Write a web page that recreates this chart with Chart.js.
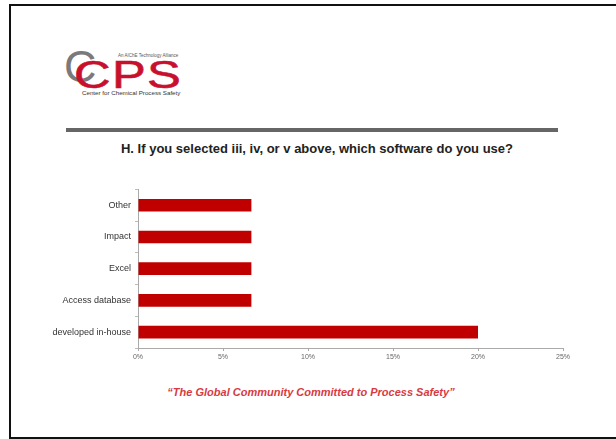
<!DOCTYPE html>
<html>
<head>
<meta charset="utf-8">
<script src="https://cdn.jsdelivr.net/npm/chart.js@4"></script>
<style>
  html, body { margin: 0; padding: 0; background: #fff; }
  body { width: 616px; height: 439px; position: relative; overflow: hidden; font-family: "Liberation Sans", Arial, sans-serif; }
  .frame { position: absolute; left: 9px; top: 4px; width: 640px; height: 431px; border: 2px solid #111; border-right: none; }
  .logo-c { position: absolute; left: 64px; top: 44px; font-size: 45px; color: #7a7a7a; line-height: 1; }
  .logo-cps { position: absolute; left: 74px; top: 55px; font-size: 39px; color: #c8102e; line-height: 1; letter-spacing: 1px; transform: scaleX(1.3); transform-origin: left top; -webkit-text-stroke: 0.6px #c8102e; }
  .logo-tag { position: absolute; left: 118px; top: 54px; font-size: 4.5px; color: #555; line-height: 1; }
  .logo-name { position: absolute; left: 82px; top: 90px; font-size: 6.2px; color: #333; line-height: 1; }
  .rule { position: absolute; left: 66px; top: 128px; width: 492px; height: 4px; background: #666; }
  .title { position: absolute; left: 0; width: 634px; top: 141px; text-align: center; font-size: 13px; font-weight: bold; color: #222; }
  .slogan { position: absolute; left: 0; width: 622px; top: 386px; text-align: center; font-size: 11px; font-weight: bold; font-style: italic; color: #d83a42; }
  .chart-box { position: absolute; left: 0; top: 180px; width: 616px; height: 200px; }
</style>
</head>
<body>
<div class="frame"></div>
<div class="logo-c">C</div>
<div class="logo-cps">CPS</div>
<div class="logo-tag">An AIChE Technology Alliance</div>
<div class="logo-name">Center for Chemical Process Safety</div>
<div class="rule"></div>
<div class="title">H. If you selected iii, iv, or v above, which software do you use?</div>
<div class="chart-box"><canvas id="chart" width="616" height="200"></canvas></div>
<div class="slogan">“The Global Community Committed to Process Safety”</div>

<script>
// survey answers, top to bottom
const categories = ['Other', 'Impact', 'Excel', 'Access database', 'developed in-house'];
const shares     = [6.67, 6.67, 6.67, 6.67, 20];   // percent of respondents
const xTicks     = [0, 5, 10, 15, 20, 25];

const ctx = document.getElementById('chart').getContext('2d');
new Chart(ctx, {
    type: 'bar',
    data: {
        labels: categories,
        datasets: [{
            data: shares,
            backgroundColor: '#c00000',
            borderWidth: 0,
            barPercentage: 0.8,
            categoryPercentage: 0.5
        }]
    },
    options: {
        indexAxis: 'y',
        responsive: false,
        animation: false,
        devicePixelRatio: 1,
        layout: { padding: { top: 6, right: 53, left: 0, bottom: 0 } },
        plugins: { legend: { display: false }, tooltip: { enabled: false } },
        scales: {
            x: {
                min: 0, max: 25,
                afterBuildTicks: s => { s.ticks = xTicks.map(v => ({ value: v })); },
                afterFit: s => { s.height = 32; },
                border: { color: '#aaa', width: 1 },
                grid: { drawOnChartArea: false, drawTicks: true, tickLength: 3, color: '#aaa' },
                ticks: {
                    padding: 2,
                    color: '#666',
                    font: { family: 'Liberation Sans', size: 7 },
                    callback: v => v + '%'
                }
            },
            y: {
                afterFit: s => { s.width = 138; },
                border: { color: '#aaa', width: 1 },
                grid: { drawOnChartArea: false, drawTicks: true, tickLength: 3, color: '#bbb', offset: true },
                ticks: {
                    padding: 4,
                    color: '#333',
                    font: { family: 'Liberation Sans', size: 9 }
                }
            }
        }
    }
});
</script>
</body>
</html>
